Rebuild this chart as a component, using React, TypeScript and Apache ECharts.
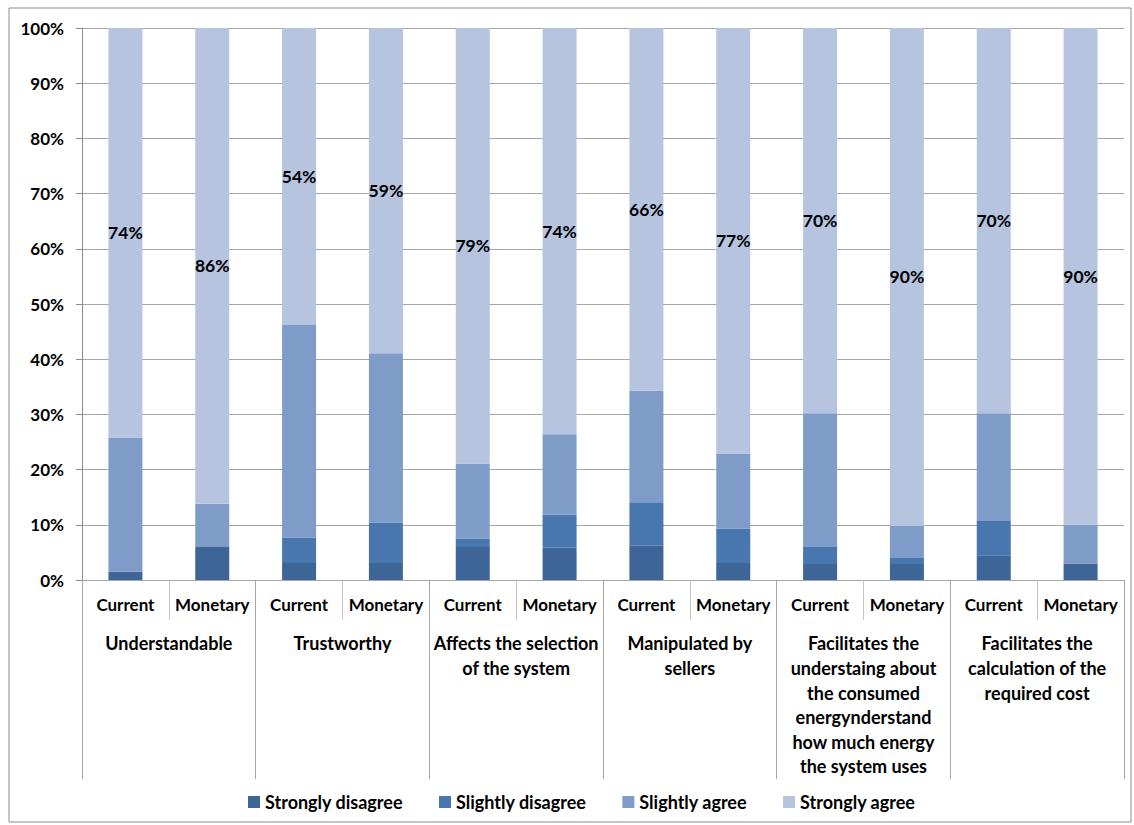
import React, { useEffect, useRef } from "react";
import * as echarts from "echarts";

const categories = [
  "Current", "Monetary", "Current", "Monetary", "Current", "Monetary",
  "Current", "Monetary", "Current", "Monetary", "Current", "Monetary",
];
const groups = [
  "Understandable",
  "Trustworthy",
  "Affects the selection\nof the system",
  "Manipulated by\nsellers",
  "Facilitates the\nunderstaing about\nthe consumed\nenergynderstand\nhow much energy\nthe system uses",
  "Facilitates the\ncalculation of the\nrequired cost",
];
const seriesNames = ["Strongly disagree", "Slightly disagree", "Slightly agree", "Strongly agree"];
const stronglyDisagree = [1.5, 6.0, 3.1, 3.1, 6.0, 5.9, 6.2, 3.1, 2.9, 2.9, 4.5, 3.0];
const slightlyDisagree = [0, 0, 4.6, 7.3, 1.5, 5.9, 7.9, 6.2, 3.1, 1.1, 6.2, 0];
const slightlyAgree = [24.3, 7.8, 38.5, 30.7, 13.6, 14.6, 20.2, 13.6, 24.2, 5.8, 19.5, 7.0];
const stronglyAgree = [74.2, 86.2, 53.8, 58.9, 78.9, 73.6, 65.7, 77.1, 69.8, 90.2, 69.8, 90.0];
const yTicks = [0, 100, 10];

const colors = ["#3d6597", "#4877b0", "#7f9bc7", "#b6c4df"];
const FONT = "Lato";

export default function App() {
  const ref = useRef<HTMLDivElement>(null);
  useEffect(() => {
    document.body.style.margin = "0";
    const chart = echarts.init(ref.current!, null, { renderer: "svg" });
    const values = [stronglyDisagree, slightlyDisagree, slightlyAgree, stronglyAgree];
    const option = {
      animation: false,
      textStyle: { fontFamily: FONT },
      graphic: [
        {
          type: "rect",
          shape: { x: 9, y: 8, width: 1122, height: 814 },
          style: { fill: "none", stroke: "#8c8c8c", lineWidth: 1 },
          silent: true,
        },
      ],
      grid: { left: 82, right: 10, top: 28, bottom: 245, containLabel: false },
      legend: {
        bottom: 9,
        left: 243,
        icon: "rect",
        itemWidth: 12,
        itemHeight: 12,
        itemGap: 36,
        itemTextGap: 4,
        textStyle: { fontFamily: FONT, fontWeight: "bold", fontSize: 18, color: "#000" },
        data: seriesNames,
      },
      xAxis: [
        {
          type: "category",
          data: categories,
          position: "bottom",
          axisLine: { show: true, lineStyle: { color: "#a6a6a6" } },
          axisTick: { show: true, length: 40, interval: 0, lineStyle: { color: "#c4c4c4" } },
          axisLabel: {
            interval: 0,
            margin: 16,
            fontFamily: FONT,
            fontWeight: "bold",
            fontSize: 17,
            color: "#000",
          },
        },
        {
          type: "category",
          data: groups,
          position: "bottom",
          axisLine: { show: false },
          axisTick: { show: true, length: 199, interval: 0, lineStyle: { color: "#a6a6a6" } },
          axisLabel: {
            interval: 0,
            margin: 51,
            fontFamily: FONT,
            fontWeight: "bold",
            fontSize: 18,
            lineHeight: 24.6,
            color: "#000",
          },
        },
      ],
      yAxis: {
        type: "value",
        min: yTicks[0],
        max: yTicks[1],
        interval: yTicks[2],
        axisLine: { show: true, lineStyle: { color: "#8c8c8c" } },
        axisTick: { show: true, length: 6, lineStyle: { color: "#8c8c8c" } },
        splitLine: { show: true, lineStyle: { color: "#a6a6a6" } },
        axisLabel: {
          formatter: "{value}%",
          margin: 18,
          fontFamily: FONT,
          fontWeight: "bold",
          fontSize: 17,
          color: "#000",
        },
      },
      series: seriesNames.map((name, i) => ({
        name,
        type: "bar",
        stack: "total",
        xAxisIndex: 0,
        barWidth: 34,
        data: values[i],
        itemStyle: { color: colors[i] },
        label:
          i === 3
            ? {
                show: true,
                position: "inside",
                formatter: (p: any) => Math.round(p.value) + "%",
                fontFamily: FONT,
                fontWeight: "bold",
                fontSize: 17.5,
                color: "#000",
              }
            : { show: false },
      })),
    };
    chart.setOption(option as any);
    return () => chart.dispose();
  }, []);
  return <div ref={ref} style={{ width: 1134, height: 825, position: "absolute", left: 0, top: 0 }} />;
}
